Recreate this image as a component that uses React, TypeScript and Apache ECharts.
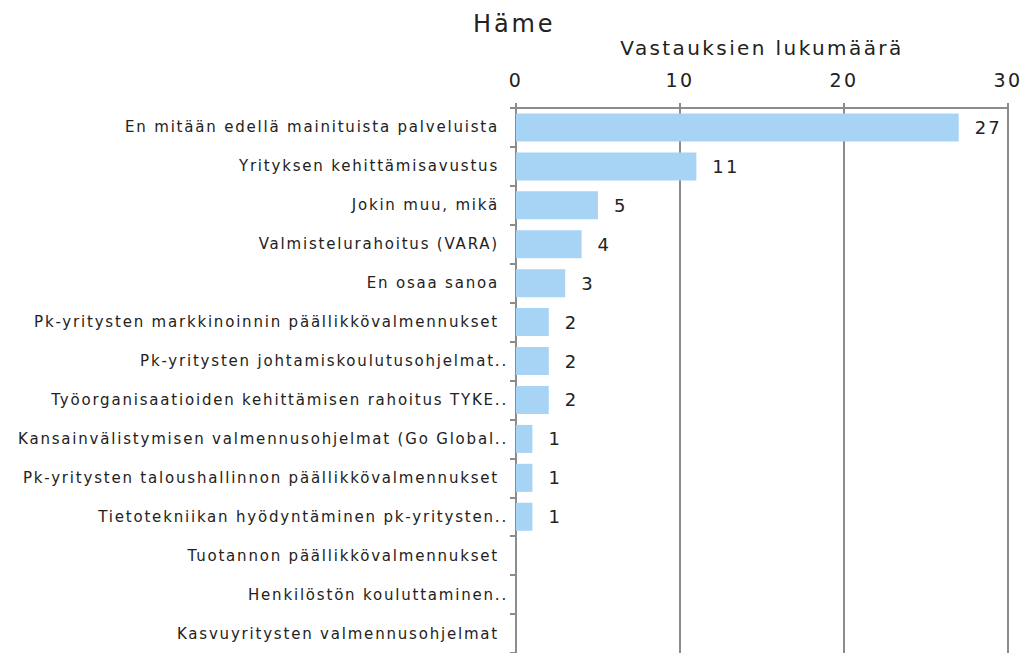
import React, { useEffect, useRef } from "react";
import * as echarts from "echarts";

const title = "Häme";
const axisName = "Vastauksien lukumäärä";
const categories = [
  "En mitään edellä mainituista palveluista",
  "Yrityksen kehittämisavustus",
  "Jokin muu, mikä",
  "Valmistelurahoitus (VARA)",
  "En osaa sanoa",
  "Pk-yritysten markkinoinnin päällikkövalmennukset",
  "Pk-yritysten johtamiskoulutusohjelmat..",
  "Työorganisaatioiden kehittämisen rahoitus TYKE..",
  "Kansainvälistymisen valmennusohjelmat (Go Global..",
  "Pk-yritysten taloushallinnon päällikkövalmennukset",
  "Tietotekniikan hyödyntäminen pk-yritysten..",
  "Tuotannon päällikkövalmennukset",
  "Henkilöstön kouluttaminen..",
  "Kasvuyritysten valmennusohjelmat",
];
const values = [27, 11, 5, 4, 3, 2, 2, 2, 1, 1, 1, 0, 0, 0];
const xTicks = [0, 10, 20, 30];

export default function App() {
  const ref = useRef<HTMLDivElement>(null);
  useEffect(() => {
    if (!ref.current) return;
    const chart = echarts.init(ref.current, undefined, { renderer: "svg" });
    const font = "DejaVu Sans";
    chart.setOption({
      animation: false,
      backgroundColor: "#ffffff",
      textStyle: { fontFamily: font },
      title: {
        text: title,
        left: 468,
        top: 7,
        textStyle: { fontFamily: font, fontSize: 24, fontWeight: "normal", color: "#222" },
      },
      grid: { left: 516, top: 108, width: 492, height: 546, containLabel: false },
      xAxis: {
        type: "value",
        position: "top",
        min: xTicks[0],
        max: xTicks[xTicks.length - 1],
        interval: 10,
        name: axisName,
        nameLocation: "middle",
        nameGap: 50,
        nameTextStyle: { fontFamily: font, fontSize: 20, color: "#222" },
        axisLine: { show: true, lineStyle: { color: "#8c8c8c", width: 2 } },
        axisTick: { show: true, inside: false, length: 5, lineStyle: { color: "#8c8c8c", width: 2 } },
        axisLabel: { fontFamily: font, fontSize: 19, color: "#222", margin: 19 },
        splitLine: { show: true, lineStyle: { color: "#8c8c8c", width: 2 } },
      },
      yAxis: {
        type: "category",
        inverse: true,
        data: categories,
        axisLine: { show: true, lineStyle: { color: "#8c8c8c", width: 2 } },
        axisTick: { show: true, length: 6, lineStyle: { color: "#8c8c8c", width: 2 } },
        axisLabel: {
          margin: 8,
          formatter: (v: string) => (v.endsWith("..") ? `{t|${v}}` : `{n|${v}}`),
          rich: {
            t: { fontFamily: font, fontSize: 15, color: "#222" },
            n: { fontFamily: font, fontSize: 15, color: "#222", padding: [0, 9, 0, 0] },
          },
        },
      },
      series: [
        {
          type: "bar",
          data: values,
          barCategoryGap: "28%",
          itemStyle: { color: "#a7d3f4" },
          label: {
            show: true,
            position: "right",
            distance: 16,
            fontFamily: font,
            fontSize: 18,
            color: "#222",
            formatter: (p: any) => (p.value > 0 ? String(p.value) : ""),
          },
        },
      ],
    });
    return () => chart.dispose();
  }, []);
  return (
    <>
      <style>{`.hame-chart svg text { letter-spacing: 0.12em; }`}</style>
      <div
        ref={ref}
        className="hame-chart"
        style={{ position: "fixed", left: 0, top: 0, width: 1023, height: 653 }}
      />
    </>
  );
}
